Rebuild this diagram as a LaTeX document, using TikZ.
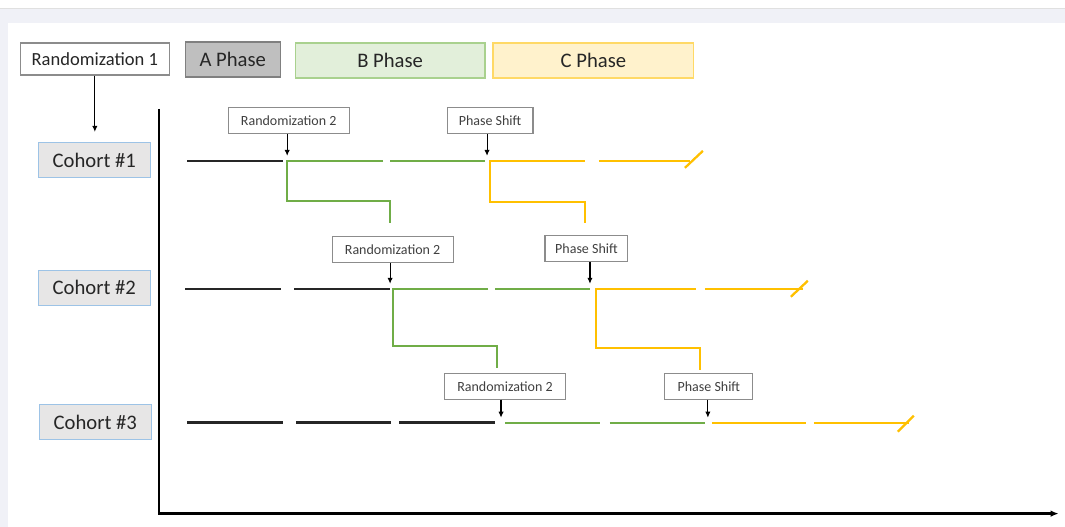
\documentclass[tikz,border=0pt]{standalone}
\usepackage{fontspec}
\setmainfont{Carlito}
\usetikzlibrary{arrows.meta}
\definecolor{panelbg}{HTML}{F0F1F7}
\definecolor{textdark}{HTML}{262626}
\definecolor{textgray}{HTML}{404040}
\definecolor{boxgray}{HTML}{8C8C8C}
\definecolor{afill}{HTML}{BFBFBF}
\definecolor{bfill}{HTML}{E2EFDA}
\definecolor{bedge}{HTML}{A9D18E}
\definecolor{cfill}{HTML}{FFF2CC}
\definecolor{cedge}{HTML}{FFD966}
\definecolor{cohfill}{HTML}{E7E6E6}
\definecolor{cohedge}{HTML}{9DC3E6}
\definecolor{bgreen}{HTML}{70AD47}
\definecolor{cyellow}{HTML}{FFC000}

\begin{document}
\begin{tikzpicture}[x=0.75pt,y=-0.75pt,>={Latex[length=4.5pt,width=4pt]},
  topbox/.style={draw=boxgray,line width=0.9pt,text=textdark,inner sep=0pt,
    minimum height=26.25pt,font=\fontsize{15.5}{18}\selectfont},
  cohortbox/.style={draw=cohedge,fill=cohfill,line width=0.9pt,text=textdark,inner sep=0pt,
    minimum width=84pt,minimum height=26.25pt,font=\fontsize{15.5}{18}\selectfont},
  eventbox/.style={draw=boxgray,fill=white,line width=0.8pt,text=textgray,inner sep=0pt,
    minimum height=19.5pt,font=\fontsize{10.5}{12}\selectfont},
  aline/.style={line width=1.8pt,black!85},
  bline/.style={line width=1.7pt,bgreen},
  cline/.style={line width=1.7pt,cyellow},
  pointer/.style={->,line width=0.8pt,black}]
  % page and panel
  \fill[white] (0,0) rectangle (1065,527);
  \fill[panelbg] (0,8) rectangle (1065,527);
  \draw[black!12,line width=0.6pt] (0,8) -- (1065,8);
  \fill[white] (8,23) rectangle (1065,527);

  % legend row
  \node[topbox,fill=white,minimum width=111.75pt,minimum height=24pt,
    font=\fontsize{13.9}{16}\selectfont] (rand1) at (94.5,59) {Randomization 1};
  \node[topbox,fill=afill,draw=black!50,minimum width=71.25pt] (aphase) at (232.5,59.5) {A Phase};
  \node[topbox,fill=bfill,draw=bedge,minimum width=142.5pt] (bphase) at (390,60.5) {B Phase};
  \node[topbox,fill=cfill,draw=cedge,minimum width=150.75pt] (cphase) at (593.5,60.5) {C Phase};

  % cohorts
  \node[cohortbox] (coh1) at (94,160.5) {Cohort \#1};
  \node[cohortbox] (coh2) at (94,288) {Cohort \#2};
  \node[cohortbox] (coh3) at (95,422.5) {Cohort \#3};
  \coordinate (c1in) at (94.5,132);
  \draw[pointer] (rand1.south) -- (c1in);

  % axes
  \draw[line width=1.7pt,black,-{Latex[length=6pt,width=5pt]}] (159,109) -- (159,514) -- (1059,514);

  % cohort 1
  \draw[aline] (187,161) -- (283,161);
  \draw[bline] (383,161) -- (287,161) -- (287,201) -- (390,201) -- (390,223);
  \draw[bline] (390,161) -- (485,161);
  \draw[cline] (585,161) -- (490,161) -- (490,202) -- (585,202) -- (585,223);
  \draw[cline] (599,161) -- (690,161);
  \draw[cline] (685,168) -- (703,151);
  \node[eventbox,minimum width=90.75pt] (rnd1) at (288.5,120.5) {Randomization 2};
  \node[eventbox,minimum width=64.5pt] (shift1) at (490,121) {Phase Shift};
  \coordinate (r1) at (287,156);
  \coordinate (s1) at (487,156);
  \draw[pointer] (rnd1.south -| r1) -- (r1);
  \draw[pointer] (shift1.south -| s1) -- (s1);

  % cohort 2
  \draw[aline] (185,289) -- (281,289);
  \draw[aline] (294,289) -- (390,289);
  \draw[bline] (488,289) -- (393,289) -- (393,346) -- (497,346) -- (497,368);
  \draw[bline] (495,289) -- (590,289);
  \draw[cline] (696,289) -- (596,289) -- (596,348) -- (700,348) -- (700,370);
  \draw[cline] (705,289) -- (803,289);
  \draw[cline] (791,297) -- (808,281);
  \node[eventbox,minimum width=90.75pt] (rnd2) at (392.5,250) {Randomization 2};
  \node[eventbox,minimum width=62.25pt] (shift2) at (586.5,248.5) {Phase Shift};
  \coordinate (r2) at (390,284);
  \coordinate (s2) at (590,284);
  \draw[pointer] (rnd2.south -| r2) -- (r2);
  \draw[pointer] (shift2.south -| s2) -- (s2);

  % cohort 3
  \foreach \xa/\xb in {187/283,296/391,399/495}
    \draw[aline] (\xa,423) -- (\xb,423);
  \foreach \xa/\xb in {505/600,610/705}
    \draw[bline] (\xa,423) -- (\xb,423);
  \foreach \xa/\xb in {712/806,814/909}
    \draw[cline] (\xa,423) -- (\xb,423);
  \draw[cline] (898,432) -- (914,416);
  \node[eventbox,minimum width=90.75pt] (rnd3) at (505,386.5) {Randomization 2};
  \node[eventbox,minimum width=66pt] (shift3) at (709,386.5) {Phase Shift};
  \coordinate (r3) at (501,418);
  \coordinate (s3) at (708,418);
  \draw[pointer] (rnd3.south -| r3) -- (r3);
  \draw[pointer] (shift3.south -| s3) -- (s3);
\end{tikzpicture}
\end{document}
